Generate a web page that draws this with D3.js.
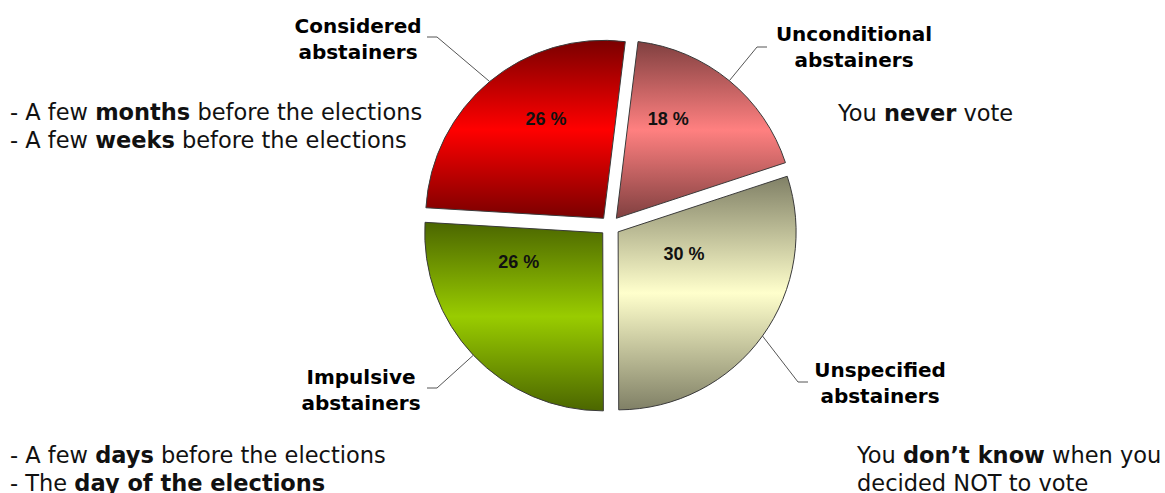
<!DOCTYPE html>
<html>
<head>
<meta charset="utf-8">
<script src="https://cdn.jsdelivr.net/npm/d3@7"></script>
<style>
  html, body { margin: 0; padding: 0; background: #fff; }
  svg { display: block; }
</style>
</head>
<body>
<svg id="chart" width="1165" height="493"></svg>
<script>
// ---------- DATA ----------
const categories = ["Unconditional abstainers", "Unspecified abstainers", "Impulsive abstainers", "Considered abstainers"];
const values = [18, 30, 26, 26];
const valueLabels = ["18 %", "30 %", "26 %", "26 %"];
const midColors = ["#ff8080", "#ffffcc", "#99cc00", "#ff0000"];
const edgeColors = ["#804040", "#808066", "#4b6600", "#7a0000"];

// description texts: arrays of [text, bold] runs per line
const descUnconditional = [[["You ", false], ["never", true], [" vote", false]]];
const descConsidered = [
  [["- A few ", false], ["months", true], [" before the elections", false]],
  [["- A few ", false], ["weeks", true], [" before the elections", false]]
];
const descImpulsive = [
  [["- A few ", false], ["days", true], [" before the elections", false]],
  [["- The ", false], ["day of the elections", true]]
];
const descUnspecified = [
  [["You ", false], ["don\u2019t know", true], [" when you", false]],
  [["decided NOT to vote", false]]
];

// ---------- LAYOUT ----------
const W = 1165, H = 493;
const cx = 610, cy = 226, R = 178, explode = 10;
const startDeg = 7;
// label placement (polar from pie centre) for value labels
const valuePos = [
  { a: 28.5, r: 122 },
  { a: 110.4, r: 79 },
  { a: 248.7, r: 98 },
  { a: 329.2, r: 125 }
];
// category label blocks: leader end point (ex,ey), direction of horizontal stub, text centre x, baseline y
const catLayout = [
  { ex: 767, ey: 47, dir: 1, tx: 854, ty: 41 },
  { ex: 808, ey: 382, dir: 1, tx: 880, ty: 377 },
  { ex: 427, ey: 388, dir: -1, tx: 361, ty: 384 },
  { ex: 427, ey: 37, dir: -1, tx: 358, ty: 33 }
];
const descLayout = [
  { lines: descUnconditional, x: 838, y: 121 },
  { lines: descConsidered, x: 10, y: 120 },
  { lines: descImpulsive, x: 10, y: 463 },
  { lines: descUnspecified, x: 857, y: 463 }
];

const svg = d3.select("#chart");
const defs = svg.append("defs");

midColors.forEach((c, i) => {
  const g = defs.append("linearGradient")
    .attr("id", "grad" + i)
    .attr("x1", 0).attr("y1", 0).attr("x2", 0).attr("y2", 1);
  g.append("stop").attr("offset", "0%").attr("stop-color", edgeColors[i]);
  g.append("stop").attr("offset", "50%").attr("stop-color", c);
  g.append("stop").attr("offset", "100%").attr("stop-color", edgeColors[i]);
});

const toRad = d => d * Math.PI / 180;
const pie = d3.pie().sort(null).value(d => d)
  .startAngle(toRad(startDeg)).endAngle(toRad(startDeg) + 2 * Math.PI);
const arcs = pie(values);
const arc = d3.arc().innerRadius(0).outerRadius(R);

const root = svg.append("g").attr("transform", `translate(${cx},${cy})`);

const slices = root.selectAll("g.slice").data(arcs).enter().append("g")
  .attr("class", "slice")
  .attr("transform", d => {
    const m = (d.startAngle + d.endAngle) / 2;
    return `translate(${explode * Math.sin(m)},${-explode * Math.cos(m)})`;
  });

slices.append("path")
  .attr("d", arc)
  .attr("fill", (d, i) => `url(#grad${i})`)
  .attr("stroke", "#3a3a3a")
  .attr("stroke-width", 1)
  .attr("stroke-linejoin", "round");

// value labels
root.selectAll("text.val").data(arcs).enter().append("text")
  .attr("class", "val")
  .attr("x", (d, i) => valuePos[i].r * Math.sin(toRad(valuePos[i].a)))
  .attr("y", (d, i) => -valuePos[i].r * Math.cos(toRad(valuePos[i].a)) + 6.5)
  .attr("text-anchor", "middle")
  .attr("font-family", "'Liberation Sans', Arial, sans-serif")
  .attr("font-weight", "bold")
  .attr("font-size", 18)
  .attr("fill", "#111")
  .text((d, i) => valueLabels[i]);

// leader lines
const leaderR = R + explode;
svg.selectAll("path.leader").data(arcs).enter().append("path")
  .attr("class", "leader")
  .attr("d", (d, i) => {
    const m = (d.startAngle + d.endAngle) / 2;
    const sx = cx + leaderR * Math.sin(m), sy = cy - leaderR * Math.cos(m);
    const L = catLayout[i];
    const bx = L.ex - L.dir * 10;
    return `M${sx},${sy}L${bx},${L.ey}L${L.ex},${L.ey}`;
  })
  .attr("fill", "none")
  .attr("stroke", "#555")
  .attr("stroke-width", 1);

// category labels
categories.forEach((c, i) => {
  const L = catLayout[i];
  const parts = c.split(" ");
  const t = svg.append("text")
    .attr("text-anchor", "middle")
    .attr("font-family", "'DejaVu Sans', Verdana, sans-serif")
    .attr("font-weight", "bold")
    .attr("font-size", 20)
    .attr("fill", "#000");
  parts.forEach((p, k) => {
    t.append("tspan").attr("x", L.tx).attr("y", L.ty + k * 26).text(p);
  });
});

// description texts
descLayout.forEach(D => {
  D.lines.forEach((line, k) => {
    const t = svg.append("text")
      .attr("x", D.x).attr("y", D.y + k * 27.5)
      .attr("font-family", "'DejaVu Sans', Verdana, sans-serif")
      .attr("font-size", 22.5)
      .attr("fill", "#111")
      .attr("xml:space", "preserve")
      .style("white-space", "pre");
    line.forEach(([txt, b]) => {
      t.append("tspan").attr("font-weight", b ? "bold" : "normal").text(txt);
    });
  });
});
</script>
</body>
</html>
